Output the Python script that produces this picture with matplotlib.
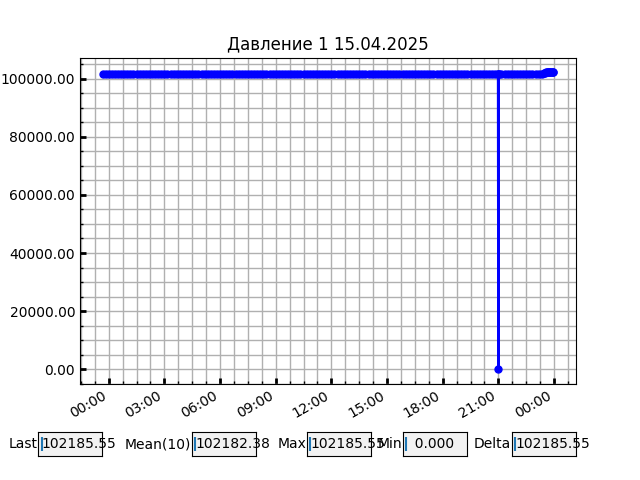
import matplotlib
matplotlib.use("Agg")
import numpy as np
import pandas as pd
import matplotlib.pyplot as plt
import matplotlib.dates as mdates
from matplotlib.ticker import AutoMinorLocator

title = "Давление 1 15.04.2025"

# regular readings, every 10 min, 14.04 23:40 .. 15.04 23:10
main_start = "2025-04-14 23:40"
main_vals = [
    101712, 101705, 101698, 101710, 101716, 101702, 101695, 101708, 101714, 101720, 101706, 101699,
    101703, 101711, 101718, 101709, 101697, 101701, 101713, 101707, 101700, 101694, 101704, 101712,
    101719, 101715, 101708, 101702, 101696, 101705, 101710, 101717, 101711, 101704, 101698, 101703,
    101709, 101714, 101720, 101713, 101706, 101700, 101695, 101701, 101708, 101712, 101718, 101710,
    101703, 101697, 101702, 101709, 101715, 101711, 101705, 101699, 101704, 101710, 101716, 101712,
    101706, 101701, 101696, 101703, 101708, 101714, 101719, 101713, 101707, 101702, 101698, 101705,
    101711, 101716, 101710, 101704, 101699, 101703, 101709, 101714, 101708, 101702, 101697, 101704,
    101710, 101715, 101709, 101703, 101698, 101705, 101712, 101717, 101711, 101706, 101700, 101708,
    101713, 101707, 101701, 101696, 101702, 101709, 101714, 101718, 101712, 101705, 101699, 101704,
    101710, 101716, 101711, 101706, 101700, 101703, 101708, 101713, 101719, 101714, 101707, 101701,
    101697, 101703, 101709, 101715, 101710, 101704, 101698, 101702, 101708, 101714, 101711, 101706,
    101701, 101707, 101712, 101717, 101713, 101708, 101702, 101699, 101705, 101710,
]

# sensor drop at 21:00 and the readings around it
dip_times = ["2025-04-15 20:59", "2025-04-15 21:00", "2025-04-15 21:01"]
dip_vals = [101705, 0.0, 101708]

# end of the day
end_times = ["2025-04-15 23:20", "2025-04-15 23:27", "2025-04-15 23:30", "2025-04-15 23:33",
             "2025-04-15 23:36", "2025-04-15 23:39", "2025-04-15 23:42", "2025-04-15 23:45",
             "2025-04-15 23:48", "2025-04-15 23:51", "2025-04-15 23:54", "2025-04-15 23:57"]
end_vals = [101706, 101900, 102100, 102176.90, 102178.90, 102180.20, 102181.75, 102182.60,
            102183.30, 102184.10, 102184.95, 102185.55]
end_last = ("2025-04-15 23:58", 102185.55)

main_times = pd.date_range(main_start, periods=len(main_vals), freq="10min")
s = pd.concat([
    pd.Series(main_vals, index=main_times, dtype=float),
    pd.Series(dip_vals, index=pd.to_datetime(dip_times), dtype=float),
    pd.Series(end_vals, index=pd.to_datetime(end_times), dtype=float),
    pd.Series([end_last[1]], index=pd.to_datetime([end_last[0]]), dtype=float),
]).sort_index()

fig = plt.figure(figsize=(6.4, 4.8), dpi=100)
ax = fig.add_subplot(111)
ax.plot(s.index, s.values, color="blue", marker="o", markersize=5, linewidth=1.8)
ax.set_title(title)

ax.xaxis.set_major_locator(mdates.HourLocator(byhour=range(0, 24, 3)))
ax.xaxis.set_major_formatter(mdates.DateFormatter("%H:%M"))
ax.xaxis.set_minor_locator(AutoMinorLocator(4))
ax.yaxis.set_minor_locator(AutoMinorLocator(4))
ax.yaxis.set_major_formatter(matplotlib.ticker.FormatStrFormatter("%.2f"))
ax.grid(True, which="both", color="#b0b0b0", linewidth=1)
ax.tick_params(which="major", direction="in", length=4, width=2)
ax.tick_params(which="minor", direction="in", length=2.5, width=1)
fig.autofmt_xdate()

# stats boxes
vals = s.values
stats = [
    ("Last", f"{vals[-1]:.2f}", 0.06),
    ("Mean(10)", f"{vals[-10:].mean():.2f}", 0.30),
    ("Max", f"{vals.max():.2f}", 0.48),
    ("Min", f"  {vals.min():.3f}", 0.63),
    ("Delta", f"{vals.max() - vals.min():.2f}", 0.80),
]
for label, txt, x0 in stats:
    bax = fig.add_axes([x0, 0.05, 0.1, 0.05], facecolor="0.95")
    bax.set_xticks([])
    bax.set_yticks([])
    bax.set_xlim(0, 1)
    bax.set_ylim(0, 1)
    bax.text(-0.01, 0.5, label, transform=bax.transAxes, ha="right", va="center", fontsize=10)
    bax.text(0.05, 0.5, txt, transform=bax.transAxes, ha="left", va="center", fontsize=10, clip_on=False)
    bax.vlines(0.05, 0.2, 0.8, color="C0", linewidth=1.5)

fig.savefig("out.png")
